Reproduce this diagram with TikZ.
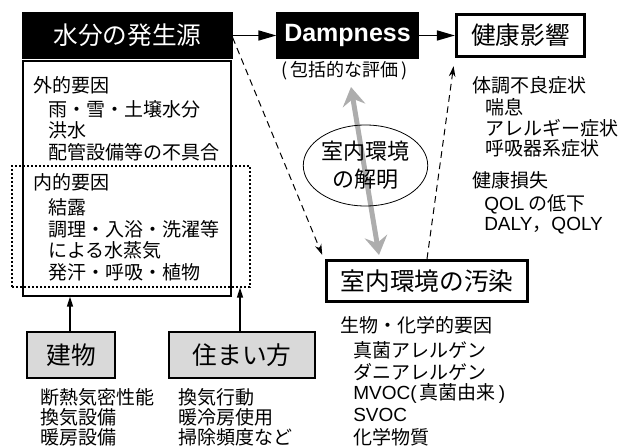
\documentclass[tikz,border=0pt]{standalone}
\usepackage{fontspec}
\setmainfont{Noto Sans CJK JP}
\newfontfamily\lat{Liberation Sans}
\usetikzlibrary{arrows.meta,shapes.geometric,calc}
\begin{document}
\begin{tikzpicture}[x=0.75pt,y=-0.75pt,
  txt/.style={anchor=west,inner sep=0pt,font=\fontsize{14.25pt}{16pt}\selectfont},
  bigfont/.style={font=\fontsize{18.5pt}{20pt}\selectfont},
  boxbase/.style={rectangle,inner sep=0pt,line width=0.9pt},
  blackbox/.style={boxbase,draw=black,fill=black,text=white,minimum height=33.75pt},
  thickbox/.style={boxbase,draw=black,line width=2.4pt,bigfont},
  graybox/.style={boxbase,draw=black,fill=black!15,bigfont,minimum height=34.5pt},
  solidarr/.style={line width=1.2pt,-{Triangle[length=13.5pt,width=7.5pt]}},
  uparr/.style={line width=0.9pt,-{Triangle[length=7.5pt,width=4.5pt]}},
  dasharr/.style={line width=0.75pt,dash pattern=on 5pt off 3.5pt,-{Stealth[length=8pt,width=5pt]}},
  grayarr/.style={line width=3.75pt,draw=black!32,{Stealth[length=14pt,width=17pt,inset=5pt]}-{Stealth[length=14pt,width=17pt,inset=5pt]}}
]
\useasboundingbox (0,0) rectangle (624,448);

% top row
\node[blackbox,bigfont,minimum width=156.75pt] (src) at (127.5,35.5) {水分の発生源};
\node[blackbox,minimum width=105.75pt,font=\lat\bfseries\fontsize{18.75pt}{20pt}\selectfont] (damp) at (347.5,35.5) {Dampness};
\node[thickbox,minimum width=96pt,minimum height=31.5pt] (health) at (520.5,35.5) {健康影響};
\node[inner sep=0pt,font=\fontsize{13.5pt}{15pt}\selectfont] (note) at (345,71) {(\,包括的な評価\,)};

% left column boxes
\node[boxbase,draw=black,minimum width=156pt,minimum height=176.25pt] (outer) at (127,178.5) {};
\node[boxbase,draw=black,dash pattern=on 1.5pt off 1.5pt,minimum width=178.5pt,minimum height=90.75pt] (dotted) at (131,226.5) {};

\node[txt] (t1) at (33,85) {外的要因};
\node[txt] (t2) at (48,109) {雨・雪・土壌水分};
\node[txt] (t3) at (48,130) {洪水};
\node[txt] (t4) at (48,152) {配管設備等の不具合};
\node[txt] (t5) at (33,182) {内的要因};
\node[txt] (t6) at (48,207) {結露};
\node[txt] (t7) at (48,229) {調理・入浴・洗濯等};
\node[txt] (t8) at (48,250) {による水蒸気};
\node[txt] (t9) at (48,272) {発汗・呼吸・植物};

% bottom boxes
\node[graybox,minimum width=66pt] (bldg) at (71,355) {建物};
\node[graybox,minimum width=109.5pt] (live) at (242,355) {住まい方};
\draw[uparr] ([xshift=-0.75pt]bldg.north) -- ([xshift=-0.75pt]bldg.north |- outer.south);
\draw[uparr] ([xshift=-1.5pt]live.north) -- ([xshift=-1.5pt]live.north |- dotted.south);

\node[txt] (b1) at (40,397) {断熱気密性能};
\node[txt] (b2) at (40,417) {換気設備};
\node[txt] (b3) at (40,437) {暖房設備};
\node[txt] (l1) at (178,397) {換気行動};
\node[txt] (l2) at (178,417) {暖冷房使用};
\node[txt] (l3) at (178,437) {掃除頻度など};

% right column
\node[txt] (h1) at (472,85) {体調不良症状};
\node[txt] (h2) at (485,107) {喘息};
\node[txt] (h3) at (485,128) {アレルギー症状};
\node[txt] (h4) at (485,148) {呼吸器系症状};
\node[txt] (h5) at (472,180) {健康損失};
\node[txt] (h6) at (484,204) {{\lat QOL} の低下};
\node[txt] (h7) at (484,226) {{\lat DALY}，{\lat QOLY}};

% pollution box
\node[thickbox,minimum width=150.75pt,minimum height=30.75pt] (poll) at (427,281) {室内環境の汚染};
\node[txt] (p1) at (340,325) {生物・化学的要因};
\node[txt] (p2) at (353,350) {真菌アレルゲン};
\node[txt] (p3) at (353,372) {ダニアレルゲン};
\node[txt] (p4) at (353,393) {{\lat MVOC(}\,真菌由来\,{\lat )}};
\node[txt] (p5) at (353,415) {{\lat SVOC}};
\node[txt] (p6) at (353,437) {化学物質};

% gray double arrow and ellipse
\coordinate (gtop) at (351,87);
\coordinate (gbot) at (379,255);
\draw[grayarr] (gtop) -- (gbot);
\node[ellipse,draw=black,line width=0.6pt,inner sep=0pt,minimum width=84.75pt,minimum height=60.75pt,
      align=center,font=\fontsize{16.5pt}{21pt}\selectfont] (ell) at (365.5,165.5) {室内環境\\の解明};

% connectors
\draw[solidarr] (src.east) -- (damp.west);
\draw[solidarr] (damp.east) -- (health.west);
\draw[dasharr] ([yshift=-1.5pt]src.east) -- ([xshift=-2pt,yshift=3pt]poll.north west);
\draw[dasharr] (poll.north) -- ([xshift=-1pt,yshift=-6pt]health.south west);
\end{tikzpicture}
\end{document}
